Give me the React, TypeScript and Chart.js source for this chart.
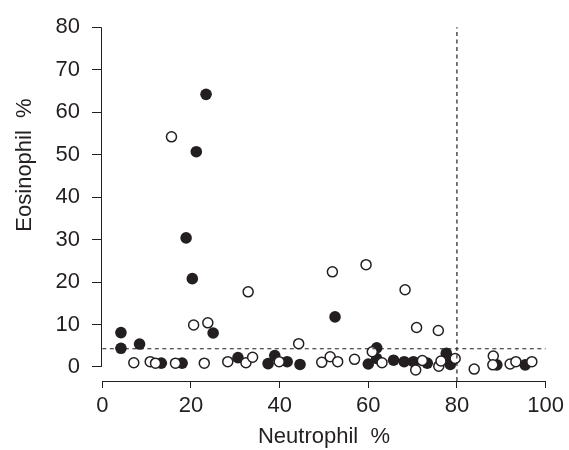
import { useEffect, useRef } from 'react';
import { Chart, registerables } from 'chart.js';

Chart.register(...registerables);

const FONT = "'Liberation Sans', Arial, sans-serif";
const INK = '#231f20';

const X_TICKS = [0, 20, 40, 60, 80, 100];
const Y_TICKS = [0, 10, 20, 30, 40, 50, 60, 70, 80];
const X_TITLE = 'Neutrophil  %';
const Y_TITLE = 'Eosinophil  %';

const EOS_CUTOFF = 4.3;
const NEU_CUTOFF = 80;

// filled circles
const filledNeutrophil = [23.4, 21.2, 18.9, 20.3, 52.5, 25.0, 4.2, 4.2, 8.4, 13.3, 18.0, 30.6, 37.4, 38.9, 41.7, 44.6, 60.0, 61.9, 61.9, 65.7, 68.1, 70.2, 73.3, 77.6, 77.7, 78.5, 89.0, 95.4];
const filledEosinophil = [64.2, 50.7, 30.4, 20.8, 11.8, 8.0, 8.1, 4.4, 5.4, 0.9, 0.9, 2.2, 0.8, 2.7, 1.25, 0.6, 0.7, 4.5, 2.0, 1.6, 1.25, 1.25, 0.9, 3.2, 2.0, 0.6, 0.5, 0.5];

// open circles
const openNeutrophil = [15.6, 32.9, 51.9, 59.5, 68.3, 70.9, 75.8, 20.6, 23.8, 44.3, 7.1, 10.8, 12.0, 16.5, 23.0, 28.3, 32.4, 33.9, 39.9, 49.5, 51.4, 53.1, 56.9, 60.9, 63.1, 70.7, 72.2, 75.9, 76.4, 79.6, 83.9, 88.2, 88.1, 92.0, 93.3, 96.9];
const openEosinophil = [54.2, 17.7, 22.4, 24.1, 18.2, 9.3, 8.6, 9.9, 10.4, 5.5, 1.0, 1.25, 0.9, 0.9, 0.9, 1.25, 1.0, 2.3, 1.25, 1.1, 2.4, 1.25, 1.8, 3.6, 1.0, -0.7, 1.5, 0.2, 1.4, 2.0, -0.5, 2.6, 0.5, 0.7, 1.25, 1.25];

const X_MIN = -0.3;
const X_MAX = 100.3;
const Y_MIN = -3.3;
const Y_MAX = 80.3;

const axisPlugin = {
  id: 'detachedAxes',
  afterDraw(chart: any) {
    const { ctx, chartArea, scales } = chart;
    const xs = scales.x;
    const ys = scales.y;
    ctx.save();
    ctx.strokeStyle = INK;
    ctx.lineWidth = 1;
    const yl = Math.round(chartArea.left) + 0.5;
    ctx.beginPath();
    ctx.moveTo(yl, ys.getPixelForValue(Y_TICKS[0]));
    ctx.lineTo(yl, ys.getPixelForValue(Y_TICKS[Y_TICKS.length - 1]));
    ctx.stroke();
    const xb = Math.round(chartArea.bottom) + 0.5;
    ctx.beginPath();
    ctx.moveTo(xs.getPixelForValue(X_TICKS[0]), xb);
    ctx.lineTo(xs.getPixelForValue(X_TICKS[X_TICKS.length - 1]), xb);
    ctx.stroke();
    ctx.fillStyle = INK;
    ctx.font = `22px ${FONT}`;
    ctx.textAlign = 'center';
    ctx.textBaseline = 'middle';
    ctx.fillText(X_TITLE, (xs.getPixelForValue(X_TICKS[0]) + xs.getPixelForValue(X_TICKS[X_TICKS.length - 1])) / 2, 437);
    ctx.translate(25, 165);
    ctx.rotate(-Math.PI / 2);
    ctx.fillText(Y_TITLE, 0, 0);
    ctx.restore();
  },
};

export default function App() {
  const ref = useRef<HTMLCanvasElement | null>(null);

  useEffect(() => {
    if (!ref.current) return;
    const filled = filledNeutrophil.map((x, i) => ({ x, y: filledEosinophil[i] }));
    const open = openNeutrophil.map((x, i) => ({ x, y: openEosinophil[i] }));
    const chart = new Chart(ref.current, {
      type: 'scatter',
      data: {
        datasets: [
          {
            label: 'eos cutoff',
            data: [{ x: X_TICKS[0], y: EOS_CUTOFF }, { x: X_TICKS[X_TICKS.length - 1], y: EOS_CUTOFF }],
            showLine: true,
            borderColor: INK,
            borderWidth: 1.2,
            borderDash: [4, 3.5],
            pointRadius: 0,
            fill: false,
          } as any,
          {
            label: 'neu cutoff',
            data: [{ x: NEU_CUTOFF, y: Y_MIN }, { x: NEU_CUTOFF, y: Y_TICKS[Y_TICKS.length - 1] }],
            showLine: true,
            borderColor: INK,
            borderWidth: 1.2,
            borderDash: [4, 3.5],
            pointRadius: 0,
            fill: false,
          } as any,
          {
            label: 'open',
            data: open,
            pointRadius: 5,
            pointBackgroundColor: '#ffffff',
            pointBorderColor: INK,
            pointBorderWidth: 1.5,
          },
          {
            label: 'filled',
            data: filled,
            pointRadius: 5.8,
            pointBackgroundColor: INK,
            pointBorderColor: INK,
            pointBorderWidth: 0,
          },
        ],
      },
      options: {
        animation: false,
        responsive: true,
        maintainAspectRatio: false,
        layout: { padding: { top: 26, right: 22, left: 0, bottom: 0 } },
        plugins: {
          legend: { display: false },
          tooltip: { enabled: false },
        },
        scales: {
          x: {
            type: 'linear',
            min: X_MIN,
            max: X_MAX,
            afterBuildTicks: (scale: any) => {
              scale.ticks = X_TICKS.map((v) => ({ value: v }));
            },
            afterFit: (scale: any) => {
              scale.height = 69;
            },
            border: { display: false },
            grid: {
              display: true,
              drawOnChartArea: false,
              drawTicks: true,
              tickLength: 7,
              color: INK,
              lineWidth: 1,
            },
            ticks: {
              color: INK,
              font: { family: FONT, size: 22 },
              padding: 5,
              maxRotation: 0,
              autoSkip: false,
            },
          },
          y: {
            type: 'linear',
            min: Y_MIN,
            max: Y_MAX,
            afterBuildTicks: (scale: any) => {
              scale.ticks = Y_TICKS.map((v) => ({ value: v }));
            },
            afterFit: (scale: any) => {
              scale.width = 101;
            },
            border: { display: false },
            grid: {
              display: true,
              drawOnChartArea: false,
              drawTicks: true,
              tickLength: 9,
              color: INK,
              lineWidth: 1,
            },
            ticks: {
              color: INK,
              font: { family: FONT, size: 22 },
              padding: 12,
              autoSkip: false,
            },
          },
        },
      },
      plugins: [axisPlugin],
    });
    return () => chart.destroy();
  }, []);

  return (
    <div style={{ position: 'absolute', left: 0, top: 0, width: 569, height: 450, background: '#ffffff' }}>
      <canvas ref={ref} />
    </div>
  );
}
